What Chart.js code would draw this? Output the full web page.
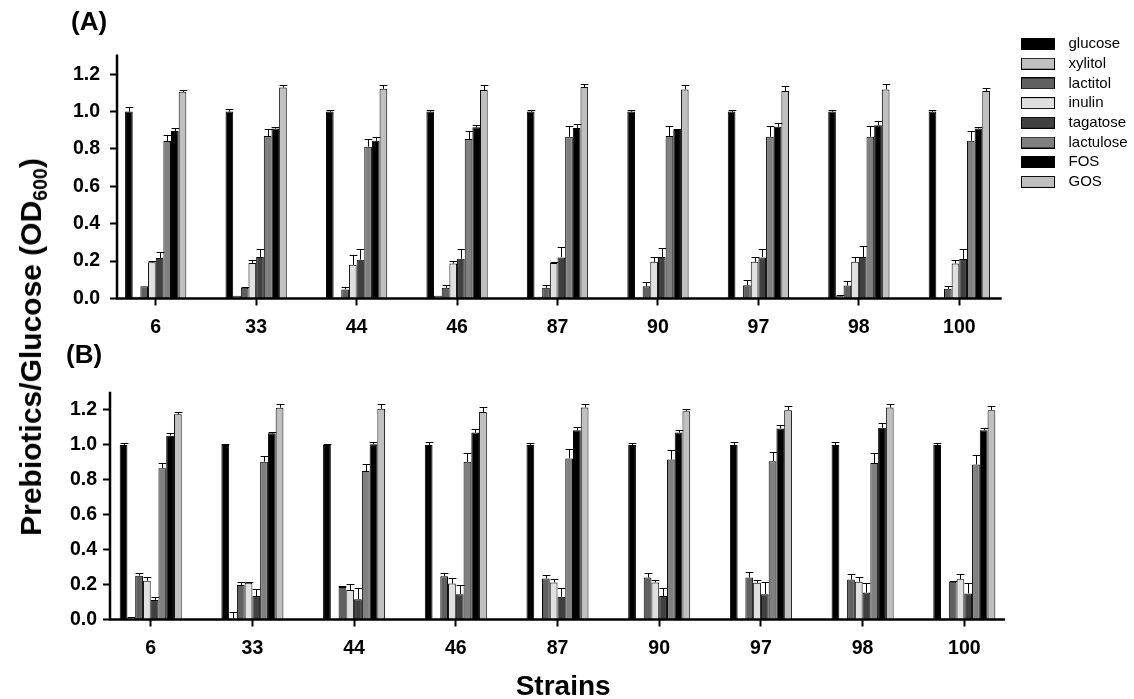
<!DOCTYPE html>
<html>
<head>
<meta charset="utf-8">
<script src="https://cdn.jsdelivr.net/npm/chart.js@4"></script>
<style>
html,body{margin:0;padding:0;background:#fff;overflow:hidden;width:1134px;height:699px}
canvas{position:absolute;left:0}
#cA{top:0}
#cB{top:345px}
.lbl{position:absolute;font-family:"Liberation Sans",Arial,sans-serif;font-weight:bold;color:#000;white-space:nowrap;line-height:1}
#ytitle{left:31px;top:347px;font-size:30px;transform:translate(-50%,-50%) rotate(-90deg)}
#ytitle sub{font-size:0.65em;vertical-align:baseline;position:relative;top:0.3em}
#pA{left:71px;top:8px;font-size:26px}
#pB{left:66px;top:341px;font-size:26px}
</style>
</head>
<body>
<canvas id="cA" width="1134" height="345"></canvas>
<canvas id="cB" width="1134" height="354"></canvas>
<div id="pA" class="lbl">(A)</div>
<div id="pB" class="lbl">(B)</div>
<div id="ytitle" class="lbl">Prebiotics/Glucose (OD<sub>600</sub>)</div>
<script>
// ---------- categories, series, ticks ----------
const strains = ['6', '33', '44', '46', '87', '90', '97', '98', '100'];
const seriesNames = ['glucose', 'xylitol', 'lactitol', 'inulin', 'tagatose', 'lactulose', 'FOS', 'GOS'];
const seriesColors = ['#000000', '#c0c0c0', '#606060', '#e0e0e0', '#404040', '#808080', '#000000', '#c0c0c0'];
const yTicks = [0, 0.2, 0.4, 0.6, 0.8, 1.0, 1.2];
const xAxisTitle = 'Strains';

// ---------- Panel (A) means ----------
const aGlucose   = [1.0, 1.0, 1.0, 1.0, 1.0, 1.0, 1.0, 1.0, 1.0];
const aXylitol   = [0.01, 0.015, 0.005, 0.015, 0.01, 0.005, 0.005, 0.012, 0.005];
const aLactitol  = [0.066, 0.057, 0.048, 0.057, 0.057, 0.066, 0.071, 0.069, 0.052];
const aInulin    = [0.194, 0.19, 0.18, 0.187, 0.19, 0.196, 0.196, 0.196, 0.187];
const aTagatose  = [0.217, 0.222, 0.208, 0.213, 0.22, 0.222, 0.22, 0.222, 0.212];
const aLactulose = [0.843, 0.869, 0.812, 0.853, 0.866, 0.869, 0.866, 0.866, 0.844];
const aFOS       = [0.896, 0.91, 0.844, 0.916, 0.912, 0.901, 0.919, 0.927, 0.91];
const aGOS       = [1.106, 1.129, 1.122, 1.115, 1.132, 1.118, 1.11, 1.118, 1.11];
// ---------- Panel (A) errors ----------
const aGlucoseErr   = [0.025, 0.012, 0.01, 0.01, 0.01, 0.01, 0.01, 0.008, 0.006];
const aXylitolErr   = [0, 0, 0, 0, 0, 0, 0, 0.006, 0];
const aLactitolErr  = [0, 0.006, 0.014, 0.017, 0.017, 0.021, 0.027, 0.023, 0.014];
const aInulinErr    = [0.005, 0.018, 0.055, 0.012, 0.006, 0.025, 0.027, 0.028, 0.017];
const aTagatoseErr  = [0.034, 0.043, 0.058, 0.053, 0.053, 0.046, 0.044, 0.057, 0.053];
const aLactuloseErr = [0.032, 0.04, 0.04, 0.043, 0.058, 0.053, 0.058, 0.058, 0.052];
const aFOSErr       = [0.018, 0.008, 0.022, 0.012, 0.02, 0.006, 0.021, 0.023, 0.006];
const aGOSErr       = [0.01, 0.016, 0.023, 0.03, 0.014, 0.023, 0.027, 0.028, 0.016];

// ---------- Panel (B) means ----------
const bGlucose   = [1.0, 1.0, 1.0, 1.0, 1.0, 1.0, 1.0, 1.0, 1.0];
const bXylitol   = [0.015, 0.005, 0.005, 0.005, 0.005, 0.005, 0.005, 0.005, 0.005];
const bLactitol  = [0.251, 0.198, 0.186, 0.248, 0.235, 0.24, 0.24, 0.229, 0.216];
const bInulin    = [0.222, 0.211, 0.169, 0.206, 0.212, 0.212, 0.21, 0.216, 0.231];
const bTagatose  = [0.112, 0.135, 0.116, 0.145, 0.13, 0.135, 0.145, 0.155, 0.149];
const bLactulose = [0.866, 0.904, 0.85, 0.903, 0.922, 0.916, 0.907, 0.897, 0.888];
const bFOS       = [1.053, 1.066, 1.003, 1.071, 1.084, 1.071, 1.094, 1.098, 1.084];
const bGOS       = [1.175, 1.213, 1.207, 1.189, 1.214, 1.193, 1.199, 1.214, 1.199];
// ---------- Panel (B) errors ----------
const bGlucoseErr   = [0.013, 0.005, 0.006, 0.017, 0.01, 0.008, 0.019, 0.019, 0.01];
const bXylitolErr   = [0, 0.04, 0, 0, 0, 0, 0, 0, 0];
const bLactitolErr  = [0.017, 0.019, 0.008, 0.017, 0.017, 0.027, 0.032, 0.029, 0.004];
const bInulinErr    = [0.023, 0.006, 0.032, 0.032, 0.019, 0.017, 0.015, 0.025, 0.027];
const bTagatoseErr  = [0.015, 0.038, 0.063, 0.055, 0.048, 0.046, 0.07, 0.055, 0.061];
const bLactuloseErr = [0.029, 0.032, 0.04, 0.052, 0.053, 0.057, 0.053, 0.057, 0.053];
const bFOSErr       = [0.013, 0.01, 0.013, 0.019, 0.019, 0.017, 0.019, 0.025, 0.013];
const bGOSErr       = [0.013, 0.021, 0.027, 0.029, 0.023, 0.01, 0.025, 0.023, 0.025];

const panelAValues = [aGlucose, aXylitol, aLactitol, aInulin, aTagatose, aLactulose, aFOS, aGOS];
const panelAErrors = [aGlucoseErr, aXylitolErr, aLactitolErr, aInulinErr, aTagatoseErr, aLactuloseErr, aFOSErr, aGOSErr];
const panelBValues = [bGlucose, bXylitol, bLactitol, bInulin, bTagatose, bLactulose, bFOS, bGOS];
const panelBErrors = [bGlucoseErr, bXylitolErr, bLactitolErr, bInulinErr, bTagatoseErr, bLactuloseErr, bFOSErr, bGOSErr];

// ---------- styling ----------
const FAMILY = '"Liberation Sans", Arial, sans-serif';
const tickFont = {family: FAMILY, size: 19.5, weight: 'bold'};

function swatch(fill) {
  const c = document.createElement('canvas');
  c.width = 40; c.height = 12;
  const g = c.getContext('2d');
  g.fillStyle = fill;
  g.fillRect(0.5, 0.5, 33, 11);
  g.strokeStyle = '#000';
  g.lineWidth = 1;
  g.strokeRect(0.5, 0.5, 33, 11);
  return c;
}

const errorBars = {
  id: 'errorBars',
  afterDatasetsDraw(chart) {
    const ctx = chart.ctx;
    const ys = chart.scales.y;
    ctx.save();
    ctx.strokeStyle = '#000';
    ctx.lineWidth = 1;
    chart.data.datasets.forEach((ds, i) => {
      const meta = chart.getDatasetMeta(i);
      meta.data.forEach((bar, j) => {
        const e = ds.errors[j];
        if (!e) return;
        const top = Math.round(ys.getPixelForValue(ds.data[j] + e)) + 0.5;
        const cx = Math.round(bar.x) + 0.5;
        const half = bar.width / 2;
        ctx.beginPath();
        ctx.moveTo(cx, bar.y);
        ctx.lineTo(cx, top);
        ctx.moveTo(cx - half, top);
        ctx.lineTo(cx + half, top);
        ctx.stroke();
      });
    });
    ctx.restore();
  }
};

const axisLines = {
  id: 'axisLines',
  afterDraw(chart, args, opts) {
    const {ctx, chartArea, scales} = chart;
    const y0 = scales.y.getPixelForValue(0);
    const yTop = scales.y.getPixelForValue(opts.yEnd);
    const xEnd = scales.x.getPixelForValue(opts.xEnd);
    ctx.save();
    ctx.strokeStyle = '#000';
    ctx.lineWidth = 2.5;
    ctx.lineCap = 'butt';
    ctx.beginPath();
    ctx.moveTo(chartArea.left, yTop);
    ctx.lineTo(chartArea.left, y0);
    ctx.lineTo(xEnd, y0);
    ctx.stroke();
    ctx.restore();
  }
};

function buildDatasets(values, errors) {
  return seriesNames.map((name, i) => ({
    label: name,
    data: values[i],
    errors: errors[i],
    backgroundColor: seriesColors[i],
    borderColor: '#000',
    borderWidth: 1,
    borderSkipped: 'start',
    categoryPercentage: 0.61,
    barPercentage: 1.0
  }));
}

function gridOpts() {
  return {display: true, offset: false, drawOnChartArea: false, drawTicks: true, tickLength: 7, tickWidth: 2, tickColor: '#000', color: '#000'};
}

function makePanel(canvasId, p) {
  return new Chart(document.getElementById(canvasId), {
    type: 'bar',
    data: {
      labels: strains.map((_, i) => i),
      datasets: buildDatasets(p.values, p.errors)
    },
    options: {
      responsive: false,
      animation: false,
      devicePixelRatio: 1,
      events: [],
      layout: {padding: p.padding},
      scales: {
        x: {
          type: 'linear', min: p.xMin, max: p.xMax, bounds: 'data', offset: false,
          afterBuildTicks: s => { s.ticks = strains.map((_, i) => ({value: i})); },
          afterFit: s => { s.height = p.xHeight; },
          grid: gridOpts(),
          border: {display: false},
          ticks: {autoSkip: false, maxRotation: 0, minRotation: 0, padding: 10, color: '#000', font: tickFont,
                  callback: v => strains[v] !== undefined ? strains[v] : ''},
          title: p.xTitle ? {display: true, text: xAxisTitle, color: '#000', padding: 0,
                  font: {family: FAMILY, size: 28, weight: 'bold', lineHeight: 0.86}} : {display: false}
        },
        y: {
          type: 'linear', min: 0, max: p.yMax, bounds: 'data',
          afterBuildTicks: s => { s.ticks = yTicks.map(v => ({value: v})); },
          afterFit: s => { s.width = p.yWidth; },
          grid: gridOpts(),
          border: {display: false},
          ticks: {padding: p.yPad, color: '#000', font: tickFont, callback: v => Number(v).toFixed(1)}
        }
      },
      plugins: {
        tooltip: {enabled: false},
        title: {display: false},
        axisLines: {xEnd: p.xEnd, yEnd: 1.305},
        legend: p.legend ? {
          display: true, position: 'right', align: 'start', maxWidth: 117.7,
          labels: {
            usePointStyle: true, pointStyleWidth: 40, padding: 4.7, color: '#000',
            font: {family: FAMILY, size: 15},
            generateLabels: chart => chart.data.datasets.map((ds, i) => ({
              text: ds.label, pointStyle: swatch(ds.backgroundColor), fillStyle: ds.backgroundColor,
              strokeStyle: '#000', lineWidth: 1, hidden: false, datasetIndex: i, fontColor: '#000'
            }))
          }
        } : {display: false}
      }
    },
    plugins: [errorBars, axisLines]
  });
}

makePanel('cA', {
  values: panelAValues, errors: panelAErrors,
  padding: {top: 31.8, right: 0, left: 0, bottom: 0},
  xMin: -0.3853, xMax: 8.5674, xEnd: 8.422, xHeight: 46.5,
  yMax: 1.427, yWidth: 117, yPad: 10, legend: true, xTitle: false
});

makePanel('cB', {
  values: panelBValues, errors: panelBErrors,
  padding: {top: 40, right: 117.7, left: 0, bottom: 0},
  xMin: -0.4002, xMax: 8.5113, xEnd: 8.40, xHeight: 79.5,
  yMax: 1.343, yWidth: 110, yPad: 6, legend: false, xTitle: true
});
</script>
</body>
</html>
